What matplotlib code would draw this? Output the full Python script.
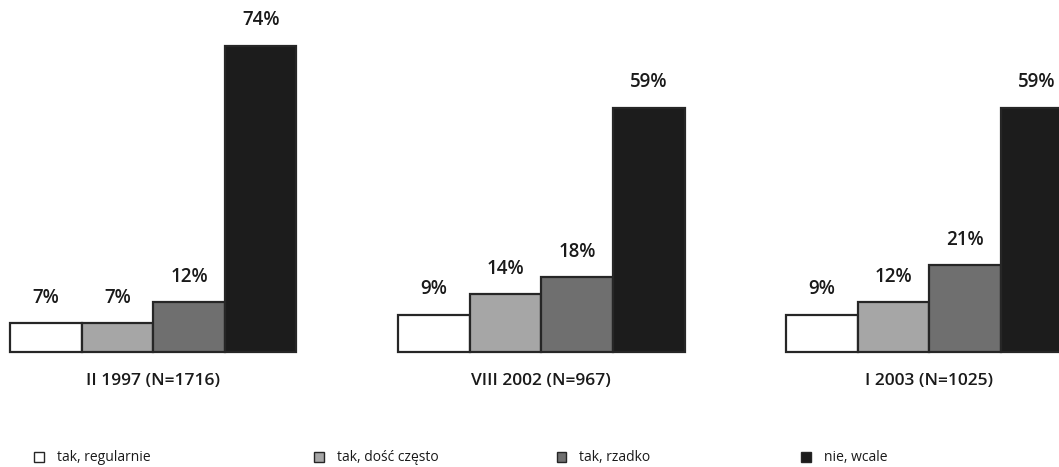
import matplotlib
matplotlib.use("Agg")
import matplotlib.pyplot as plt
from matplotlib.patches import Rectangle
import numpy as np

plt.rcParams['font.family'] = ['Open Sans', 'DejaVu Sans']

# survey waves and answer shares (%)
waves = ['II 1997 (N=1716)', 'VIII 2002 (N=967)', 'I 2003 (N=1025)']
answers = ['tak, regularnie', 'tak, dość często', 'tak, rzadko', 'nie, wcale']
shares = [
    [7, 7, 12, 74],
    [9, 14, 18, 59],
    [9, 12, 21, 59],
]
colors = ['#ffffff', '#a6a6a6', '#6f6f6f', '#1c1c1c']

fig = plt.figure(figsize=(10.59, 4.67), dpi=100)
ax = fig.add_axes([0, 0, 1, 1])

group_step = 5.42
bar_w = 1.0
for g, vals in enumerate(shares):
    left = g * group_step
    xs = left + np.arange(len(vals)) * bar_w + bar_w / 2
    ax.bar(xs, vals, width=bar_w, color=colors, edgecolor='#262626',
           linewidth=1.6, zorder=2)
    for x, v in zip(xs, vals):
        ax.annotate(f'{v}%', xy=(x, v), xytext=(0, 11), textcoords='offset points',
                    ha='center', va='bottom', fontsize=13.5, fontweight='semibold',
                    color='#1a1a1a')
    ax.text(left + 2 * bar_w, -7, waves[g], ha='center', va='center',
            fontsize=12.5, fontweight='semibold', color='#1a1a1a')

ax.set_xlim(-0.14, 14.65)
ax.set_ylim(-27.8, 85.0)
ax.axis('off')

# legend row along the bottom
leg_x = [0.037, 0.301, 0.530, 0.761]
leg_y = 0.021
for lx, c, name in zip(leg_x, colors, answers):
    sq = Rectangle((lx - 0.0045, leg_y - 0.0105), 0.009, 0.021,
                   transform=fig.transFigure, facecolor=c,
                   edgecolor='#262626', linewidth=1.0)
    fig.patches.append(sq)
    fig.text(lx + 0.017, leg_y, name, ha='left', va='center', fontsize=10,
             color='#1a1a1a')

fig.savefig('out.png', dpi=100)
